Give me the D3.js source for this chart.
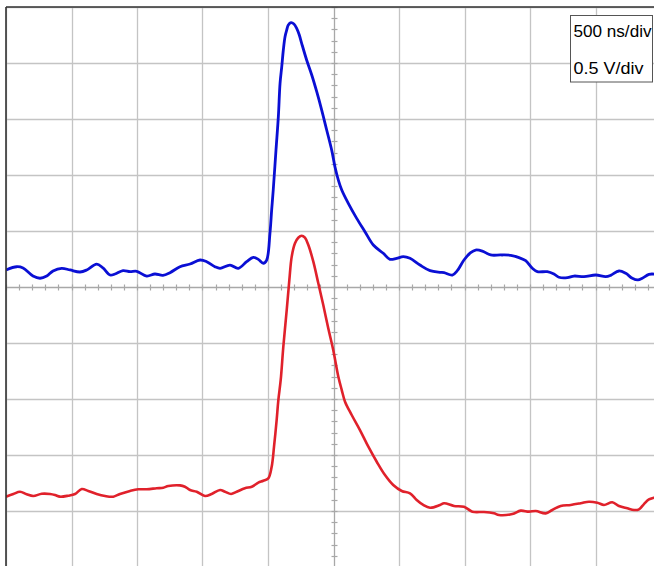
<!DOCTYPE html>
<html>
<head>
<meta charset="utf-8">
<script src="https://cdn.jsdelivr.net/npm/d3@7"></script>
<style>
html,body{margin:0;padding:0;background:#fff;overflow:hidden;}
svg{display:block;}
</style>
</head>
<body>
<svg id="chart" width="654" height="566"></svg>
<script>
// Time base: 500 ns/div, 10 divisions; vertical: 0.5 V/div, 10 divisions
const timeTicks = d3.range(-2500, 2501, 500);
const voltTicks = d3.range(-2.5, 2.51, 0.5);
const legendLabels = ["500 ns/div", "0.5 V/div"];

// Channel 1 (blue): [time ns, volts]
const blueT = [-2500,-2418,-2370,-2294,-2240,-2189,-2141,-2075,-2011,-1935,-1884,-1808,-1760,-1706,-1668,-1607,-1553,-1502,-1426,-1363,-1302,-1248,-1172,-1095,-1019,-968,-905,-866,-790,-727,-663,-612,-574,-536,-510,-485,-472,-460,-439,-421,-408,-395,-383,-370,-357,-345,-324,-302,-281,-261,-243,-205,-166,-128,-90,-52,-14,11,37,63,113,177,240,304,380,431,482,533,584,660,737,813,844,907,945,996,1047,1085,1136,1200,1276,1353,1416,1467,1518,1556,1632,1683,1721,1785,1836,1912,2002,2078,2116,2179,2231,2281,2324,2357,2408,2447,2500];
const blueV = [0.152,0.181,0.170,0.098,0.078,0.098,0.143,0.167,0.152,0.134,0.152,0.205,0.170,0.107,0.116,0.146,0.137,0.140,0.098,0.116,0.104,0.128,0.181,0.205,0.241,0.226,0.181,0.167,0.196,0.167,0.226,0.265,0.247,0.212,0.241,0.482,0.688,0.866,1.223,1.521,1.819,1.967,2.116,2.235,2.295,2.339,2.360,2.348,2.310,2.250,2.176,2.027,1.893,1.744,1.580,1.402,1.223,1.074,0.955,0.866,0.747,0.613,0.494,0.375,0.301,0.247,0.256,0.271,0.256,0.196,0.146,0.131,0.128,0.107,0.146,0.241,0.306,0.330,0.321,0.286,0.286,0.283,0.262,0.235,0.167,0.137,0.137,0.116,0.087,0.083,0.098,0.092,0.107,0.092,0.104,0.143,0.122,0.078,0.063,0.078,0.113,0.116,0.118];

// Channel 2 (red): [time ns, volts]
const redT = [-2500,-2444,-2393,-2342,-2292,-2227,-2164,-2126,-2088,-2024,-1973,-1922,-1872,-1808,-1744,-1681,-1630,-1553,-1490,-1426,-1350,-1299,-1261,-1172,-1134,-1095,-1044,-981,-930,-866,-828,-782,-739,-676,-624,-574,-536,-498,-472,-454,-434,-421,-403,-383,-357,-337,-319,-294,-269,-243,-218,-192,-154,-116,-78,-40,-2,37,63,88,139,202,266,330,393,456,521,584,635,685,737,813,844,920,996,1060,1149,1225,1263,1365,1429,1492,1544,1620,1670,1734,1811,1887,1950,2014,2065,2128,2179,2243,2294,2332,2370,2408,2447,2500];
const redV = [-1.872,-1.848,-1.828,-1.851,-1.866,-1.846,-1.848,-1.857,-1.872,-1.863,-1.848,-1.804,-1.821,-1.848,-1.866,-1.872,-1.848,-1.821,-1.806,-1.806,-1.797,-1.792,-1.777,-1.771,-1.783,-1.813,-1.828,-1.866,-1.848,-1.813,-1.828,-1.848,-1.828,-1.797,-1.783,-1.747,-1.730,-1.708,-1.604,-1.426,-1.188,-1.009,-0.830,-0.533,-0.205,0.063,0.271,0.390,0.440,0.458,0.440,0.375,0.226,0.033,-0.161,-0.369,-0.563,-0.801,-0.920,-1.024,-1.143,-1.277,-1.426,-1.560,-1.679,-1.768,-1.821,-1.842,-1.902,-1.946,-1.971,-1.946,-1.931,-1.955,-1.962,-2.006,-2.009,-2.021,-2.036,-2.027,-1.997,-2.006,-2.000,-2.021,-1.991,-1.955,-1.946,-1.931,-1.917,-1.926,-1.946,-1.922,-1.955,-1.976,-1.991,-1.985,-1.938,-1.896,-1.881,-1.870];

const svg = d3.select("#chart");
const x = d3.scaleLinear().domain([-2500, 2500]).range([6, 661]);
const y = d3.scaleLinear().domain([-2.5, 2.5]).range([567, 7]);

svg.append("defs").append("clipPath").attr("id", "plotclip")
  .append("rect").attr("x", x(-2500)).attr("y", y(2.5))
  .attr("width", x(2500) - x(-2500)).attr("height", y(-2.5) - y(2.5));

const grid = svg.append("g");
// vertical grid lines
grid.selectAll("line.vg").data(timeTicks.filter(t => t !== 0)).join("line")
  .attr("x1", d => Math.round(x(d)) + 0.5).attr("x2", d => Math.round(x(d)) + 0.5)
  .attr("y1", y(2.5)).attr("y2", y(-2.5))
  .attr("stroke", "#c4c4c4").attr("stroke-width", 1.3);
// horizontal grid lines
grid.selectAll("line.hg").data(voltTicks.filter(v => Math.abs(v) > 1e-9)).join("line")
  .attr("y1", d => Math.round(y(d)) + 0.5).attr("y2", d => Math.round(y(d)) + 0.5)
  .attr("x1", x(-2500)).attr("x2", x(2500))
  .attr("stroke", "#c4c4c4").attr("stroke-width", 1.3);

// center cross axes with minor ticks
const cx = Math.round(x(0)) + 0.5, cy = Math.round(y(0)) + 0.5;
grid.append("line").attr("x1", cx).attr("x2", cx).attr("y1", y(2.5)).attr("y2", y(-2.5))
  .attr("stroke", "#a8a8a8").attr("stroke-width", 1.3);
grid.append("line").attr("y1", cy).attr("y2", cy).attr("x1", x(-2500)).attr("x2", x(2500))
  .attr("stroke", "#a8a8a8").attr("stroke-width", 1.3);
const minorT = d3.range(-2500, 2501, 100);
grid.selectAll("line.mt").data(minorT).join("line")
  .attr("x1", d => Math.round(x(d)) + 0.5).attr("x2", d => Math.round(x(d)) + 0.5)
  .attr("y1", cy - 3).attr("y2", cy + 3)
  .attr("stroke", "#a8a8a8").attr("stroke-width", 1.2);
const minorV = d3.range(-25, 26, 1).map(v => v / 10);
grid.selectAll("line.mv").data(minorV).join("line")
  .attr("y1", d => Math.round(y(d)) + 0.5).attr("y2", d => Math.round(y(d)) + 0.5)
  .attr("x1", cx - 3).attr("x2", cx + 3)
  .attr("stroke", "#a8a8a8").attr("stroke-width", 1.2);

// traces
const line = d3.line().x(d => x(d[0])).y(d => y(d[1])).curve(d3.curveCatmullRom.alpha(0.5));
const traces = svg.append("g").attr("clip-path", "url(#plotclip)");
traces.append("path").datum(redT.map((t, i) => [t, redV[i]]))
  .attr("d", line).attr("fill", "none").attr("stroke", "#e0212b")
  .attr("stroke-width", 2.6).attr("stroke-linejoin", "round");
traces.append("path").datum(blueT.map((t, i) => [t, blueV[i]]))
  .attr("d", line).attr("fill", "none").attr("stroke", "#0a0fd4")
  .attr("stroke-width", 2.8).attr("stroke-linejoin", "round");

// frame (top & left visible)
svg.append("line").attr("x1", x(-2500)).attr("x2", x(2500)).attr("y1", y(2.5)).attr("y2", y(2.5))
  .attr("stroke", "#333").attr("stroke-width", 1.6);
svg.append("line").attr("x1", x(-2500)).attr("x2", x(-2500)).attr("y1", y(2.5)).attr("y2", y(-2.5))
  .attr("stroke", "#333").attr("stroke-width", 1.6);

// legend box
const lg = svg.append("g");
lg.append("rect").attr("x", 570.5).attr("y", 15.5).attr("width", 82).attr("height", 66.5)
  .attr("fill", "#fff").attr("stroke", "#555").attr("stroke-width", 1);
lg.selectAll("text").data(legendLabels).join("text")
  .attr("x", 573.5).attr("y", (d, i) => i === 0 ? 36.5 : 74)
  .attr("font-family", "Liberation Sans, Arial, sans-serif")
  .attr("font-size", 16.5).attr("fill", "#000")
  .attr("textLength", (d, i) => i === 0 ? 78 : 70).attr("lengthAdjust", "spacingAndGlyphs")
  .text(d => d);
</script>
</body>
</html>
